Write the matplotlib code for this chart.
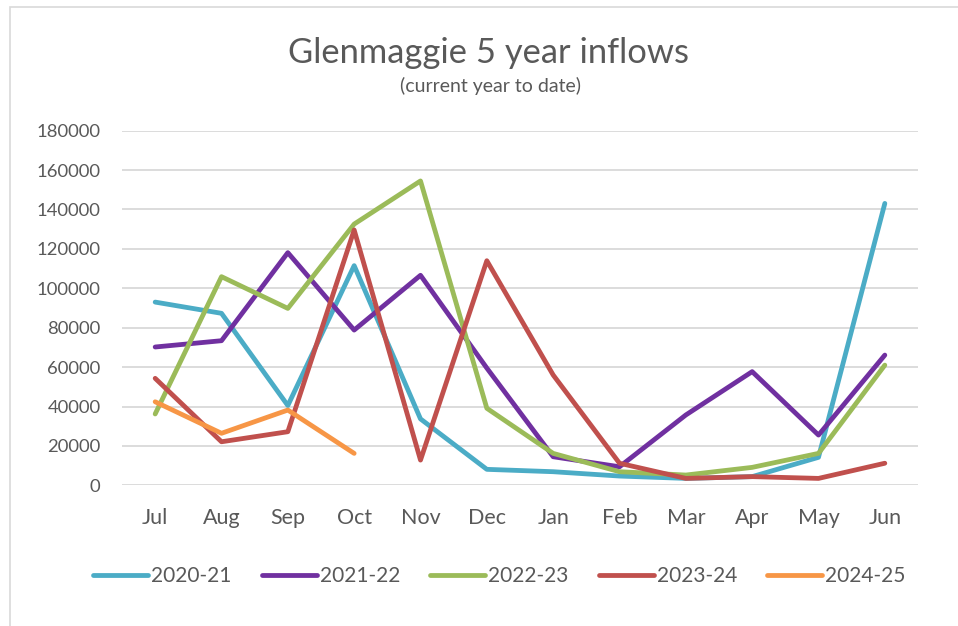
import matplotlib
matplotlib.use("Agg")
import matplotlib.pyplot as plt
from matplotlib.patches import Rectangle

months = ["Jul", "Aug", "Sep", "Oct", "Nov", "Dec", "Jan", "Feb", "Mar", "Apr", "May", "Jun"]
y2020_21 = [93000, 87300, 40500, 111500, 33700, 8100, 6900, 4700, 3500, 4400, 14200, 143100]
y2021_22 = [70200, 73400, 118100, 78800, 106600, 59500, 14500, 9400, 35700, 57700, 25500, 66100]
y2022_23 = [36200, 105900, 89800, 132600, 154500, 39100, 16200, 6900, 5200, 9100, 16200, 61000]
y2023_24 = [54300, 22100, 27200, 129600, 12800, 114000, 56000, 11200, 3500, 4400, 3500, 11200]
y2024_25 = [42400, 26400, 38200, 16200]
series_names = ["2020-21", "2021-22", "2022-23", "2023-24", "2024-25"]
series_colors = ["#4BACC6", "#7030A0", "#9BBB59", "#C0504D", "#F79646"]
yticks = [0, 20000, 40000, 60000, 80000, 100000, 120000, 140000, 160000, 180000]

W, H = 958, 626
fig = plt.figure(figsize=(W / 100, H / 100), dpi=100)
fig.patch.set_facecolor("white")

FONT = "Lato"
TXT = "#595959"
LW = 3.45

ax = fig.add_axes([122 / W, 1 - 485.3 / H, (918 - 122) / W, (485.3 - 130.7) / H])
data = [y2020_21, y2021_22, y2022_23, y2023_24, y2024_25]
x = list(range(len(months)))
for name, vals, col in zip(series_names, data, series_colors):
    ax.plot(x[:len(vals)], vals, color=col, lw=LW, label=name,
            solid_capstyle="round", solid_joinstyle="round", zorder=3)

ax.set_xlim(-0.5, 11.5)
ax.set_ylim(0, 180000)
ax.set_yticks(yticks)
ax.set_yticklabels([str(v) for v in yticks], fontfamily=FONT, fontsize=13.3, color=TXT)
ax.set_xticks(x)
ax.set_xticklabels(months, fontfamily=FONT, fontsize=15.5, color=TXT)
ax.tick_params(axis="both", length=0)
ax.tick_params(axis="y", pad=15.5)
ax.tick_params(axis="x", pad=16.5)
ax.grid(axis="y", color="#D9D9D9", lw=1.3, zorder=0)
for s in ax.spines.values():
    s.set_visible(False)
ax.set_facecolor("none")

fig.text(488.5 / W, 1 - 63.3 / H, "Glenmaggie 5 year inflows", ha="center", va="baseline",
         fontfamily=FONT, fontsize=24.8, color=TXT)
fig.text(490 / W, 1 - 92 / H, "(current year to date)", ha="center", va="baseline",
         fontfamily=FONT, fontsize=14, color=TXT)

leg = fig.legend(loc="center", bbox_to_anchor=(499.5 / W, 1 - 576 / H), ncol=5, frameon=False,
                 prop={"family": FONT, "size": 15}, handlelength=2.64, handletextpad=0.15,
                 columnspacing=1.44, borderpad=0, borderaxespad=0)
for t in leg.get_texts():
    t.set_color(TXT)
for h in leg.legend_handles:
    h.set_linewidth(LW)
    h.set_solid_capstyle("round")

fig.patches.append(Rectangle((10 / W, -0.1), 1.2, 1 - 7 / H + 0.1, transform=fig.transFigure,
                             fill=False, edgecolor="#D9D9D9", lw=1.2))

fig.savefig("out.png", dpi=100)
